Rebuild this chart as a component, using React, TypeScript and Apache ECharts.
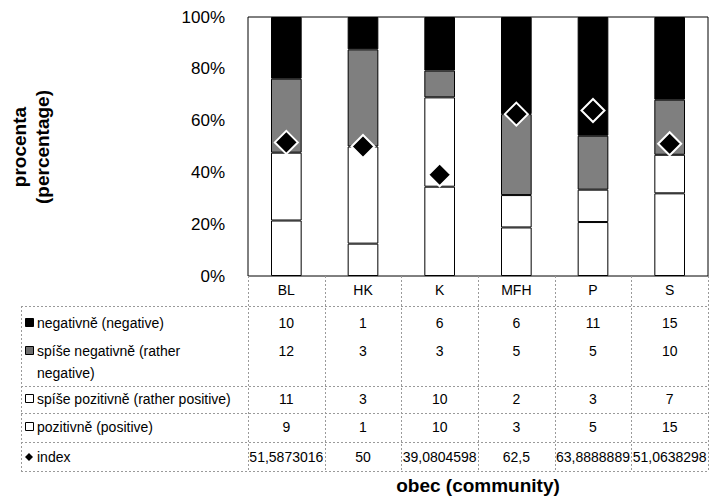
import React, { useEffect, useRef } from "react";
import * as echarts from "echarts";

const categories = ["BL", "HK", "K", "MFH", "P", "S"];
const negative = [10, 1, 6, 6, 11, 15];
const ratherNegative = [12, 3, 3, 5, 5, 10];
const ratherPositive = [11, 3, 10, 2, 3, 7];
const positive = [9, 1, 10, 3, 5, 15];
const indexValues = [51.5873016, 50, 39.0804598, 62.5, 63.8888889, 51.0638298];

const yTicks = { min: 0, max: 100, interval: 20 };

const FONT = "'Liberation Sans', Arial, sans-serif";

export default function App() {
  const ref = useRef<HTMLDivElement>(null);

  useEffect(() => {
    if (!ref.current) return;
    const chart = echarts.init(ref.current, null, { renderer: "svg" });

    const W = 714;
    const gridLeft = 248;
    const gridRight = 708;
    const gridTop = 17;
    const gridBottom = 276;
    const colW = (gridRight - gridLeft) / categories.length;
    const colCenter = (i: number) => gridLeft + (i + 0.5) * colW;

    const totals = categories.map(
      (_, i) => negative[i] + ratherNegative[i] + ratherPositive[i] + positive[i]
    );
    const pct = (arr: number[]) => arr.map((v, i) => (v / totals[i]) * 100);

    const tableLeft = 21;
    const tableBottom = 471;
    const hLines = [306, 386, 413, 442, 471];

    const rows = [
      { label: "negativně (negative)", values: negative.map(String), y: 323, marker: "black" },
      { label: "spíše negativně (rather\nnegative)", values: ratherNegative.map(String), y: 351, marker: "gray" },
      { label: "spíše pozitivně (rather positive)", values: ratherPositive.map(String), y: 399, marker: "white" },
      { label: "pozitivně (positive)", values: positive.map(String), y: 427, marker: "white" },
      {
        label: "index",
        values: indexValues.map((v) => String(v).replace(".", ",")),
        y: 457,
        marker: "diamond",
      },
    ];

    const lineStyle = { stroke: "#9a9a9a", lineWidth: 1, lineDash: [2, 2] };
    const graphics: any[] = [];

    hLines.forEach((y) =>
      graphics.push({
        type: "line",
        shape: { x1: tableLeft, y1: y + 0.5, x2: gridRight, y2: y + 0.5 },
        style: lineStyle,
        silent: true,
      })
    );
    graphics.push({
      type: "line",
      shape: { x1: tableLeft + 0.5, y1: hLines[0], x2: tableLeft + 0.5, y2: tableBottom },
      style: lineStyle,
      silent: true,
    });
    for (let i = 0; i <= categories.length; i++) {
      const x = Math.round(gridLeft + i * colW) + 0.5;
      graphics.push({
        type: "line",
        shape: { x1: x, y1: gridBottom, x2: x, y2: tableBottom },
        style: lineStyle,
        silent: true,
      });
    }

    rows.forEach((row) => {
      if (row.marker === "diamond") {
        graphics.push({
          type: "polygon",
          shape: {
            points: [
              [29, row.y - 4],
              [33, row.y],
              [29, row.y + 4],
              [25, row.y],
            ],
          },
          style: { fill: "#000" },
        });
      } else {
        graphics.push({
          type: "rect",
          shape: { x: 25.5, y: row.y - 4.5, width: 8, height: 8 },
          style: {
            fill: row.marker === "black" ? "#000" : row.marker === "gray" ? "#6e6e6e" : "#fff",
            stroke: "#000",
            lineWidth: 1,
          },
        });
      }
      graphics.push({
        type: "text",
        x: 37,
        y: row.y - 11,
        style: {
          text: row.label,
          font: `14px ${FONT}`,
          fill: "#000",
          align: "left",
          verticalAlign: "top",
          lineHeight: 22,
        },
      });
      row.values.forEach((v, i) => {
        graphics.push({
          type: "text",
          x: colCenter(i),
          y: row.y,
          style: {
            text: v,
            font: `14px ${FONT}`,
            fill: "#000",
            align: "center",
            verticalAlign: "middle",
          },
        });
      });
    });

    graphics.push({
      type: "text",
      x: 31,
      y: 147,
      rotation: Math.PI / 2,
      style: {
        text: "procenta\n(percentage)",
        font: `bold 19px ${FONT}`,
        fill: "#000",
        align: "center",
        verticalAlign: "middle",
        lineHeight: 23,
      },
    });
    graphics.push({
      type: "text",
      x: (gridLeft + gridRight) / 2,
      y: 485,
      style: {
        text: "obec (community)",
        font: `bold 19px ${FONT}`,
        fill: "#000",
        align: "center",
        verticalAlign: "middle",
      },
    });

    const barStyle = (color: string) => ({
      color,
      borderColor: "#000",
      borderWidth: 1,
    });

    chart.setOption({
      animation: false,
      backgroundColor: "#fff",
      grid: {
        left: gridLeft,
        right: W - gridRight,
        top: gridTop,
        bottom: 497 - gridBottom,
        show: true,
        borderColor: "#000",
        borderWidth: 1,
        backgroundColor: "#fff",
      },
      xAxis: {
        type: "category",
        data: categories,
        axisLine: { show: false },
        axisTick: { show: false },
        axisLabel: {
          margin: 7,
          fontSize: 14,
          fontFamily: FONT,
          color: "#000",
        },
      },
      yAxis: {
        type: "value",
        min: yTicks.min,
        max: yTicks.max,
        interval: yTicks.interval,
        axisLine: { show: false },
        axisTick: { show: false },
        splitLine: { show: false },
        axisLabel: {
          formatter: "{value}%",
          margin: 23,
          fontSize: 17,
          fontFamily: FONT,
          color: "#000",
        },
      },
      series: [
        {
          name: "pozitivně (positive)",
          type: "bar",
          stack: "total",
          barWidth: "40%",
          data: pct(positive),
          itemStyle: barStyle("#fff"),
        },
        {
          name: "spíše pozitivně (rather positive)",
          type: "bar",
          stack: "total",
          barWidth: "40%",
          data: pct(ratherPositive),
          itemStyle: barStyle("#fff"),
        },
        {
          name: "spíše negativně (rather negative)",
          type: "bar",
          stack: "total",
          barWidth: "40%",
          data: pct(ratherNegative),
          itemStyle: barStyle("#7f7f7f"),
        },
        {
          name: "negativně (negative)",
          type: "bar",
          stack: "total",
          barWidth: "40%",
          data: pct(negative),
          itemStyle: barStyle("#000"),
        },
        {
          name: "index",
          type: "scatter",
          data: indexValues,
          symbol: "diamond",
          symbolSize: [23, 23],
          itemStyle: { color: "#000", borderColor: "#fff", borderWidth: 2, opacity: 1 },
          z: 5,
        },
      ],
      graphic: graphics,
    });

    return () => chart.dispose();
  }, []);

  return (
    <div
      ref={ref}
      style={{ position: "fixed", left: 0, top: 0, width: 714, height: 497 }}
    />
  );
}
